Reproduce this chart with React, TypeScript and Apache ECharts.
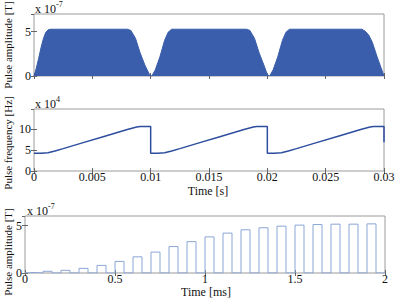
import React, { useEffect, useRef } from "react";
import * as echarts from "echarts";

// Top panel: pulse amplitude envelope (x1e-7 T) vs time (s)
const ampTime = [
  0, 0.0002, 0.0004, 0.0006, 0.0008, 0.001, 0.0012, 0.0014,
  0.008, 0.0083, 0.0087, 0.0091, 0.0095, 0.0099, 0.0101, 0.0104, 0.0108, 0.0112, 0.0115, 0.0118,
  0.0182, 0.0185, 0.0189, 0.0193, 0.0197, 0.0200, 0.0202, 0.0205, 0.0209, 0.0213, 0.0216, 0.0219,
  0.0281, 0.0284, 0.0287, 0.0290, 0.0294, 0.0297, 0.0300,
];
const ampValue = [
  0, 0.9, 2.0, 3.2, 4.2, 4.9, 5.2, 5.28,
  5.28, 5.15, 4.25, 2.6, 1.25, 0.15, 0, 0.7, 2.2, 4.05, 4.95, 5.28,
  5.28, 5.15, 4.25, 2.6, 1.25, 0.15, 0, 0.7, 2.2, 4.05, 4.95, 5.28,
  5.28, 5.05, 4.6, 3.8, 2.2, 1.1, 0,
];

// Middle panel: pulse frequency (x1e4 Hz) vs time (s)
const freqTime = [
  0, 0.0006, 0.0012, 0.0018, 0.0025, 0.004, 0.006, 0.008, 0.0088, 0.0091, 0.01,
  0.01, 0.0106, 0.0112, 0.0118, 0.0125, 0.014, 0.016, 0.018, 0.0188, 0.0191, 0.02,
  0.02, 0.0206, 0.0212, 0.0218, 0.0225, 0.024, 0.026, 0.028, 0.0288, 0.0291, 0.03, 0.03,
];
const freqValue = [
  4.2, 4.2, 4.35, 4.75, 5.3, 6.55, 8.2, 9.85, 10.45, 10.55, 10.55,
  4.2, 4.2, 4.35, 4.75, 5.3, 6.55, 8.2, 9.85, 10.45, 10.55, 10.55,
  4.2, 4.2, 4.35, 4.75, 5.3, 6.55, 8.2, 9.85, 10.45, 10.55, 10.55, 6.8,
];

// Bottom panel: individual pulses (x1e-7 T) vs time (ms)
const pulseStart = [
  0, 0.1, 0.2, 0.3, 0.4, 0.5, 0.6, 0.7, 0.8, 0.9,
  1.0, 1.1, 1.2, 1.3, 1.4, 1.5, 1.6, 1.7, 1.8, 1.9,
];
const pulseAmp = [
  0.06, 0.18, 0.28, 0.49, 0.8, 1.22, 1.7, 2.2, 2.78, 3.3,
  3.8, 4.2, 4.55, 4.76, 4.93, 5.04, 5.1, 5.14, 5.14, 5.17,
];
const pulseWidth = 0.05;

const xTopTicks = { min: 0, max: 0.03, interval: 0.005 };
const xBottomTicks = { min: 0, max: 2, interval: 0.5 };

const FONT = "'Liberation Serif', 'Times New Roman', serif";
const BOX = "#9a9a9a";

export default function App() {
  const ref = useRef<HTMLDivElement>(null);
  useEffect(() => {
    if (!ref.current) return;
    const chart = echarts.init(ref.current, null, { renderer: "svg" });

    const topData = ampTime.map((t, i) => [t, ampValue[i]]);
    const midData = freqTime.map((t, i) => [t, freqValue[i]]);
    const pulseData: number[][] = [];
    pulseStart.forEach((s, i) => {
      pulseData.push([s, 0], [s, pulseAmp[i]], [s + pulseWidth, pulseAmp[i]], [s + pulseWidth, 0]);
    });
    pulseData.push([2, 0]);

    const fmt = (v: number) => String(+v.toFixed(4));
    const label = { fontFamily: FONT, fontSize: 12, color: "#111" };
    const tick = { show: true, inside: true, length: 3, lineStyle: { color: "#666" } };
    const xAx = (grid: number, pos: "top" | "bottom", r: any, showLabel: boolean) => ({
      type: "value",
      gridIndex: grid,
      position: pos,
      min: r.min,
      max: r.max,
      interval: r.interval,
      axisLine: { show: false },
      axisTick: tick,
      splitLine: { show: false },
      axisLabel: { show: showLabel, margin: 0, formatter: fmt, ...label },
    });
    const yAx = (grid: number, pos: "left" | "right", max: number, showLabel: boolean) => ({
      type: "value",
      gridIndex: grid,
      position: pos,
      min: 0,
      max,
      interval: 5,
      axisLine: { show: false },
      axisTick: tick,
      splitLine: { show: false },
      axisLabel: { show: showLabel, margin: 3, showMaxLabel: false, ...label },
    });
    const gridBase = { show: true, borderColor: BOX, borderWidth: 1, backgroundColor: "transparent" };

    const txt = (text: string, x: number, y: number, size: number, extra: any = {}) => ({
      type: "text",
      x,
      y,
      style: { text, fontFamily: FONT, fontSize: size, fill: "#111", align: "left", verticalAlign: "middle", ...extra },
      z: 100,
    });
    const vtxt = (text: string, x: number, y: number) => ({
      type: "text",
      x,
      y,
      rotation: Math.PI / 2,
      style: { text, fontFamily: FONT, fontSize: 11, fill: "#111", align: "center", verticalAlign: "middle" },
      z: 100,
    });

    chart.setOption({
      animation: false,
      grid: [
        { ...gridBase, left: 34, top: 14, width: 350, height: 62 },
        { ...gridBase, left: 34, top: 109, width: 350, height: 62 },
        { ...gridBase, left: 25, top: 216, width: 360, height: 57 },
      ],
      xAxis: [
        xAx(0, "bottom", xTopTicks, false),
        xAx(0, "top", xTopTicks, false),
        xAx(1, "bottom", xTopTicks, true),
        xAx(1, "top", xTopTicks, false),
        xAx(2, "bottom", xBottomTicks, true),
        xAx(2, "top", xBottomTicks, false),
      ],
      yAxis: [
        yAx(0, "left", 7, true),
        yAx(0, "right", 7, false),
        yAx(1, "left", 14.7, true),
        yAx(1, "right", 14.7, false),
        yAx(2, "left", 6, true),
        yAx(2, "right", 6, false),
      ],
      series: [
        {
          type: "line",
          xAxisIndex: 0,
          yAxisIndex: 0,
          data: topData,
          showSymbol: false,
          smooth: false,
          lineStyle: { color: "#3a5eab", width: 1 },
          areaStyle: { color: "#3a5eab", opacity: 1 },
          z: 2,
        },
        {
          type: "line",
          xAxisIndex: 2,
          yAxisIndex: 2,
          data: midData,
          showSymbol: false,
          lineStyle: { color: "#2d4e9e", width: 1.5 },
        },
        {
          type: "line",
          xAxisIndex: 4,
          yAxisIndex: 4,
          data: pulseData,
          showSymbol: false,
          lineStyle: { color: "#8aa5d6", width: 1 },
        },
      ],
      graphic: [
        txt("x 10", 35, 9, 12),
        txt("-7", 56, 4, 8),
        txt("x 10", 35, 104, 12),
        txt("4", 56, 99, 8),
        txt("x 10", 27, 211, 12),
        txt("-7", 48, 206, 8),
        vtxt("Pulse amplitude [T]", 8, 45),
        vtxt("Pulse frequency [Hz]", 8, 143),
        vtxt("Pulse amplitude [T]", 8, 252),
        txt("Time [s]", 208, 191, 12, { align: "center" }),
        txt("Time [ms]", 206, 292, 12, { align: "center" }),
      ],
    });
    return () => chart.dispose();
  }, []);
  return (
    <div
      ref={ref}
      style={{ position: "fixed", left: 0, top: 0, width: 400, height: 299, background: "#fff" }}
    />
  );
}
